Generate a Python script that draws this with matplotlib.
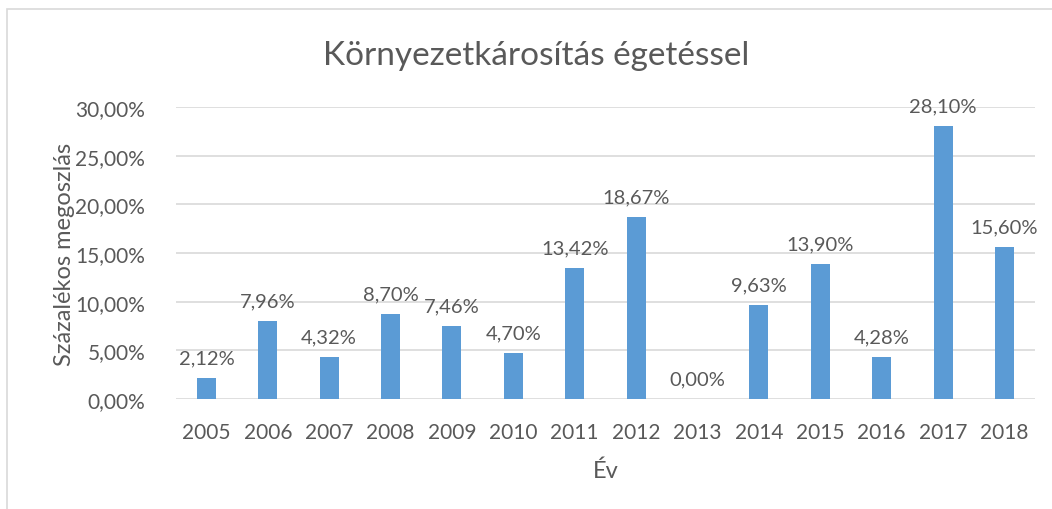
import matplotlib.pyplot as plt
import matplotlib.patches as mpatches
import numpy as np

plt.rcParams['font.family'] = ['Lato', 'DejaVu Sans']

years = ['2005', '2006', '2007', '2008', '2009', '2010', '2011', '2012',
         '2013', '2014', '2015', '2016', '2017', '2018']
values = [2.12, 7.96, 4.32, 8.70, 7.46, 4.70, 13.42, 18.67,
          0.00, 9.63, 13.90, 4.28, 28.10, 15.60]
y_ticks = [0, 5, 10, 15, 20, 25, 30]

gray = '#595959'
blue = '#5B9BD5'

fig = plt.figure(figsize=(10.52, 5.10), dpi=100)
ax = fig.add_axes([0.167, 0.216, 0.817, 0.572])

# chart border (Excel-like)
fig.patches.append(mpatches.Rectangle((7/1052, -0.1), 1.2, 1 - 10/510 + 0.1,
                                      transform=fig.transFigure, fill=False,
                                      edgecolor='#D9D9D9', lw=1.2))

x = np.arange(len(years))
ax.bar(x, values, width=0.31, color=blue, zorder=3)

for xi, v in zip(x, values):
    ax.text(xi, v + 1.2, f'{v:.2f}%'.replace('.', ','), ha='center', va='bottom',
            fontsize=14.5, color=gray)

ax.set_xlim(-0.5, len(years) - 0.5)
ax.set_ylim(0, 30)
ax.set_yticks(y_ticks)
ax.set_yticklabels([f'{t:.2f}%'.replace('.', ',') for t in y_ticks])
ax.set_xticks(x)
ax.set_xticklabels(years)
ax.tick_params(axis='both', length=0, labelsize=15, labelcolor=gray)
ax.tick_params(axis='x', pad=17)
ax.tick_params(axis='y', pad=22)
ax.grid(axis='y', color='#D9D9D9', lw=1.2, zorder=0)
for s in ax.spines.values():
    s.set_visible(False)

ax.set_xlabel('Év', fontsize=17, color=gray, labelpad=12)
ax.set_ylabel('Százalékos megoszlás', fontsize=17, color=gray, labelpad=0)
fig.text(0.51, 0.89, 'Környezetkárosítás égetéssel', ha='center', va='center',
         fontsize=24, color=gray)

fig.savefig('out.png', dpi=100)
